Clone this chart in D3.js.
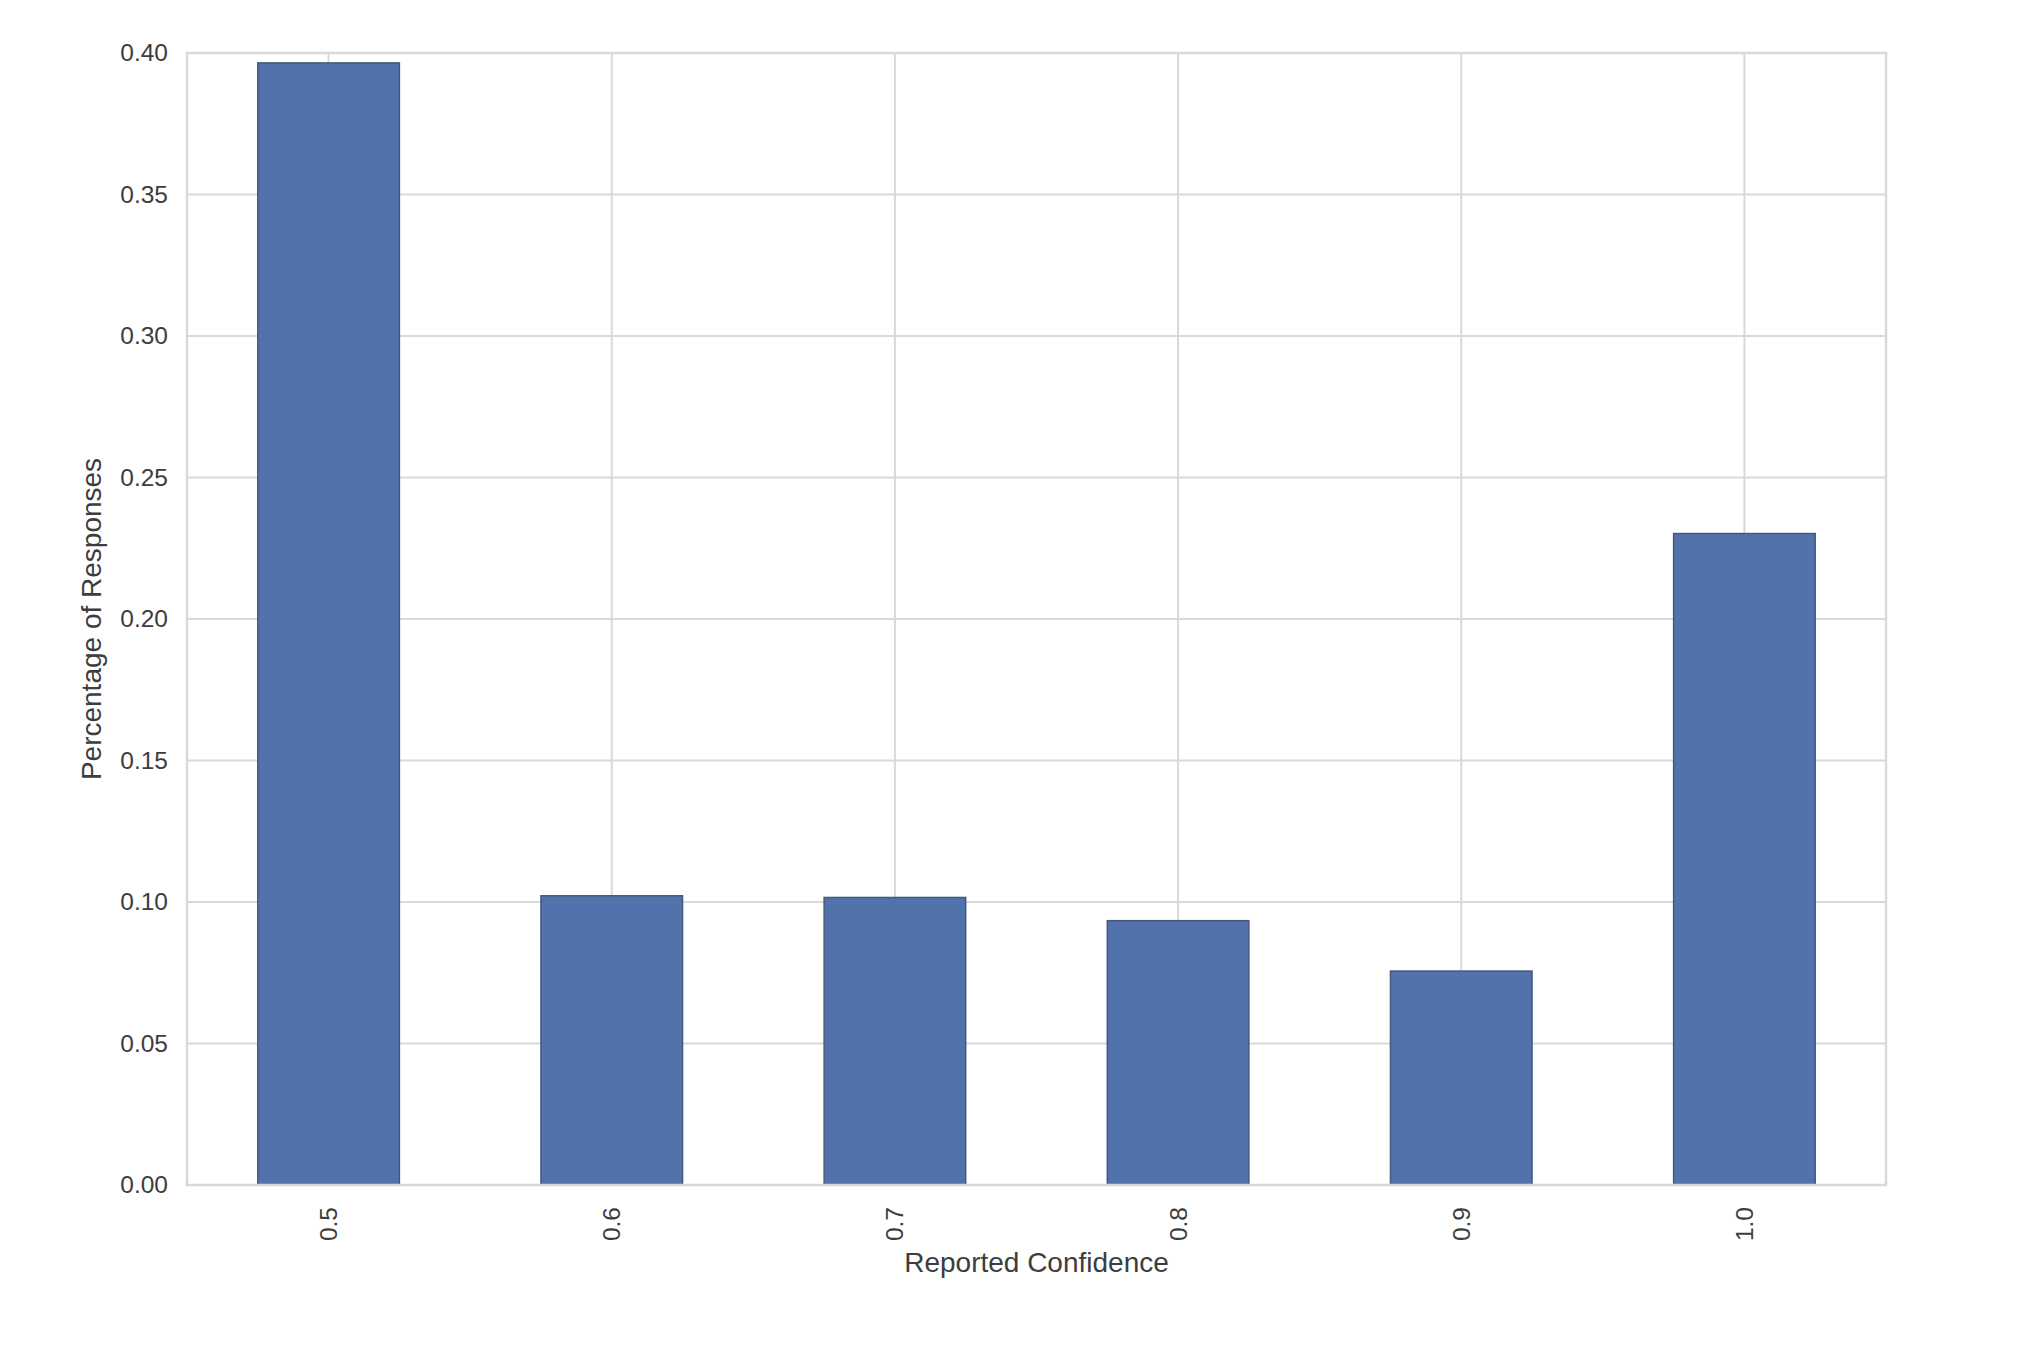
<!DOCTYPE html>
<html>
<head>
<meta charset="utf-8">
<script src="https://cdn.jsdelivr.net/npm/d3@7"></script>
<style>
  html, body { margin: 0; padding: 0; background: #fff; }
  svg { display: block; font-family: "Liberation Sans", Arial, Helvetica, sans-serif; }
</style>
</head>
<body>
<svg id="chart" width="2034" height="1348"></svg>
<script>
const categories = ["0.5", "0.6", "0.7", "0.8", "0.9", "1.0"];
const values = [0.3965, 0.1022, 0.1016, 0.0934, 0.0756, 0.2302];
const yTicks = [0.00, 0.05, 0.10, 0.15, 0.20, 0.25, 0.30, 0.35, 0.40];
const xLabel = "Reported Confidence";
const yLabel = "Percentage of Responses";

const W = 2034, H = 1348;
const plot = { left: 187, right: 1886, top: 53, bottom: 1185 };

const svg = d3.select("#chart");

const x = d3.scaleBand()
  .domain(categories)
  .range([plot.left, plot.right])
  .paddingInner(0.5)
  .paddingOuter(0.25);

const y = d3.scaleLinear()
  .domain([0, 0.40])
  .range([plot.bottom, plot.top]);

const gridColor = "#d9d9d9";
const textColor = "#3d3d3d";

// horizontal grid
svg.append("g")
  .selectAll("line")
  .data(yTicks)
  .join("line")
  .attr("x1", plot.left).attr("x2", plot.right)
  .attr("y1", d => y(d)).attr("y2", d => y(d))
  .attr("stroke", gridColor).attr("stroke-width", 2);

// vertical grid
svg.append("g")
  .selectAll("line")
  .data(categories)
  .join("line")
  .attr("x1", d => x(d) + x.bandwidth() / 2).attr("x2", d => x(d) + x.bandwidth() / 2)
  .attr("y1", plot.top).attr("y2", plot.bottom)
  .attr("stroke", gridColor).attr("stroke-width", 2);

// bars
svg.append("g")
  .selectAll("rect")
  .data(categories.map((c, i) => ({ c, v: values[i] })))
  .join("rect")
  .attr("x", d => x(d.c))
  .attr("y", d => y(d.v))
  .attr("width", x.bandwidth())
  .attr("height", d => y(0) - y(d.v))
  .attr("fill", "#5172aa")
  .attr("stroke", "#46597c")
  .attr("stroke-width", 1.5);

// frame
svg.append("rect")
  .attr("x", plot.left).attr("y", plot.top)
  .attr("width", plot.right - plot.left).attr("height", plot.bottom - plot.top)
  .attr("fill", "none").attr("stroke", gridColor).attr("stroke-width", 2.5);

// y axis tick labels
const yAxis = d3.axisLeft(y).tickValues(yTicks).tickFormat(d3.format(".2f")).tickSize(0).tickPadding(19);
const gy = svg.append("g").attr("transform", `translate(${plot.left},0)`).call(yAxis);
gy.select(".domain").remove();
gy.selectAll("text")
  .attr("font-size", 24.5)
  .attr("fill", textColor)
  .attr("font-family", "\"Liberation Sans\", Arial, sans-serif");

// x axis tick labels (rotated)
const xAxis = d3.axisBottom(x).tickSize(0).tickPadding(0);
const gx = svg.append("g").attr("transform", `translate(0,${plot.bottom})`).call(xAxis);
gx.select(".domain").remove();
gx.selectAll("text")
  .attr("font-size", 24.5)
  .attr("fill", textColor)
  .attr("font-family", "\"Liberation Sans\", Arial, sans-serif")
  .attr("text-anchor", "end")
  .attr("transform", "translate(0,22) rotate(-90)")
  .attr("x", 0)
  .attr("y", 0)
  .attr("dy", "0.35em");

// axis labels
svg.append("text")
  .attr("x", (plot.left + plot.right) / 2)
  .attr("y", 1272)
  .attr("text-anchor", "middle")
  .attr("font-size", 28)
  .attr("fill", textColor)
  .text(xLabel);

svg.append("text")
  .attr("transform", `translate(101,${(plot.top + plot.bottom) / 2}) rotate(-90)`)
  .attr("text-anchor", "middle")
  .attr("font-size", 28)
  .attr("fill", textColor)
  .text(yLabel);
</script>
</body>
</html>
